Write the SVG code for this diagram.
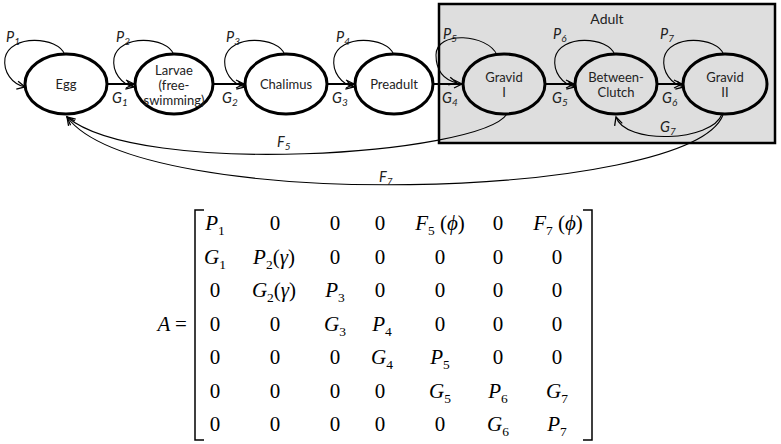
<svg xmlns="http://www.w3.org/2000/svg" width="781" height="444" viewBox="0 0 781 444">
<style>
.node{stroke:#000;stroke-width:3;fill:#fff}
.adult .node{fill:#dedede}
.nt{font-family:Lato,"Liberation Sans",sans-serif;font-size:13px;text-anchor:middle;fill:#222}
.lb{font-family:Lato,"Liberation Sans",sans-serif;font-size:14.5px;font-style:italic;fill:#222}
.sb{font-size:10px}
.g{stroke:#000;stroke-width:2;fill:none}
.loop{stroke:#000;stroke-width:1.1;fill:none}
.m{font-family:"Liberation Serif","Times New Roman","DejaVu Serif",serif;font-size:21px;text-anchor:middle;fill:#000}
.mi{font-style:italic}
.ms{font-size:13.5px}
</style>
<defs>
<marker id="ah" markerUnits="userSpaceOnUse" markerWidth="12" markerHeight="12" refX="9" refY="5" orient="auto">
<path d="M1,1 L9,5 L1,9" fill="none" stroke="#000" stroke-width="1.3"/>
</marker>
</defs>
<rect id="adult-box" x="439" y="4" width="336" height="139" fill="#dedede" stroke="#000" stroke-width="2.5"/>
<text class="nt" x="607" y="24" style="font-size:14px">Adult</text>
<g id="connectors">
<path class="g" d="M107 84 H134" marker-end="url(#ah)"/>
<path class="g" d="M213 84 H244" marker-end="url(#ah)"/>
<path class="g" d="M327 84 H354" marker-end="url(#ah)"/>
<path class="g" d="M433 84 H462" marker-end="url(#ah)"/>
<path class="g" d="M545 84 H574" marker-end="url(#ah)"/>
<path class="g" d="M657 84 H682" marker-end="url(#ah)"/>
<path class="loop" d="M65 55 C58 36,10 34,5 58 C3 72,12 84,25 87" marker-end="url(#ah)"/>
<path class="loop" d="M174 55 C167 36,119 34,114 58 C112 72,121 84,134 87" marker-end="url(#ah)"/>
<path class="loop" d="M285 55 C278 36,230 34,225 58 C223 72,232 84,245 87" marker-end="url(#ah)"/>
<path class="loop" d="M394 55 C387 36,339 34,334 58 C332 72,341 84,354 87" marker-end="url(#ah)"/>
<path class="loop" d="M497 55 C488 34,436 30,436 55 C436 72,445 80,457 83" marker-end="url(#ah)"/>
<path class="loop" d="M615 55 C608 36,560 34,555 58 C553 72,562 84,575 87" marker-end="url(#ah)"/>
<path class="loop" d="M724 55 C717 36,669 34,664 58 C662 72,671 84,684 87" marker-end="url(#ah)"/>
<path class="loop" d="M722 114 C712 142,625 145,616 117" marker-end="url(#ah)"/>
<path class="loop" d="M507 114 C480 155,140 178,67 117" marker-end="url(#ah)"/>
<path class="loop" d="M723 115 C690 200,140 215,67 117" marker-end="url(#ah)"/>
</g>
<g id="labels">
<text class="lb" x="6" y="42">P<tspan class="sb" dy="3">1</tspan></text>
<text class="lb" x="116" y="42">P<tspan class="sb" dy="3">2</tspan></text>
<text class="lb" x="226" y="42">P<tspan class="sb" dy="3">3</tspan></text>
<text class="lb" x="336" y="42">P<tspan class="sb" dy="3">4</tspan></text>
<text class="lb" x="443" y="39">P<tspan class="sb" dy="3">5</tspan></text>
<text class="lb" x="553" y="39">P<tspan class="sb" dy="3">6</tspan></text>
<text class="lb" x="660" y="39">P<tspan class="sb" dy="3">7</tspan></text>
<text class="lb" x="112" y="103">G<tspan class="sb" dy="3">1</tspan></text>
<text class="lb" x="222" y="103">G<tspan class="sb" dy="3">2</tspan></text>
<text class="lb" x="332" y="103">G<tspan class="sb" dy="3">3</tspan></text>
<text class="lb" x="442" y="103">G<tspan class="sb" dy="3">4</tspan></text>
<text class="lb" x="552" y="103">G<tspan class="sb" dy="3">5</tspan></text>
<text class="lb" x="662" y="103">G<tspan class="sb" dy="3">6</tspan></text>
<text class="lb" x="660" y="132">G<tspan class="sb" dy="3">7</tspan></text>
<text class="lb" x="277" y="147">F<tspan class="sb" dy="3">5</tspan></text>
<text class="lb" x="379" y="182">F<tspan class="sb" dy="3">7</tspan></text>
</g>
<g id="egg"><ellipse class="node" cx="66" cy="84" rx="41" ry="30"/><text class="nt" x="66" y="89">Egg</text></g>
<g id="larvae"><ellipse class="node" cx="174" cy="84" rx="39" ry="30"/><text class="nt" x="174" y="75">Larvae</text><text class="nt" x="174" y="90">(free-</text><text class="nt" x="174" y="105">swimming)</text></g>
<g id="chalimus"><ellipse class="node" cx="286" cy="84" rx="41" ry="30"/><text class="nt" x="286" y="89">Chalimus</text></g>
<g id="preadult"><ellipse class="node" cx="394" cy="84" rx="39" ry="30"/><text class="nt" x="394" y="89">Preadult</text></g>
<g class="adult">
<g id="gravid1"><ellipse class="node" cx="504" cy="84" rx="41" ry="30"/><text class="nt" x="504" y="82">Gravid</text><text class="nt" x="504" y="97">I</text></g>
<g id="between-clutch"><ellipse class="node" cx="616" cy="84" rx="41" ry="30"/><text class="nt" x="616" y="82">Between-</text><text class="nt" x="616" y="97">Clutch</text></g>
<g id="gravid2"><ellipse class="node" cx="725" cy="84" rx="42" ry="30"/><text class="nt" x="725" y="82">Gravid</text><text class="nt" x="725" y="97">II</text></g>
</g>
<g id="matrix">
<text class="m mi" x="164" y="331">A</text>
<text class="m" x="181" y="331">=</text>
<path d="M204 210 H195 V440 H204 M583 210 H592 V440 H583" fill="none" stroke="#000" stroke-width="1.5"/>
<text class="m" x="215" y="230"><tspan class="mi">P</tspan><tspan class="ms" dy="5">1</tspan></text>
<text class="m" x="275" y="230">0</text><text class="m" x="335" y="230">0</text><text class="m" x="380" y="230">0</text>
<text class="m" x="440" y="230"><tspan class="mi">F</tspan><tspan class="ms" dy="5">5</tspan><tspan dy="-5"> (</tspan><tspan class="mi">ϕ</tspan>)</text>
<text class="m" x="498" y="230">0</text>
<text class="m" x="558" y="230"><tspan class="mi">F</tspan><tspan class="ms" dy="5">7</tspan><tspan dy="-5"> (</tspan><tspan class="mi">ϕ</tspan>)</text>
<text class="m" x="215" y="263.5"><tspan class="mi">G</tspan><tspan class="ms" dy="5">1</tspan></text>
<text class="m" x="274" y="263.5"><tspan class="mi">P</tspan><tspan class="ms" dy="5">2</tspan><tspan dy="-5">(</tspan><tspan class="mi">γ</tspan>)</text>
<text class="m" x="335" y="263.5">0</text><text class="m" x="380" y="263.5">0</text><text class="m" x="440" y="263.5">0</text><text class="m" x="498" y="263.5">0</text><text class="m" x="557" y="263.5">0</text>
<text class="m" x="215" y="297">0</text>
<text class="m" x="274" y="297"><tspan class="mi">G</tspan><tspan class="ms" dy="5">2</tspan><tspan dy="-5">(</tspan><tspan class="mi">γ</tspan>)</text>
<text class="m" x="335" y="297"><tspan class="mi">P</tspan><tspan class="ms" dy="5">3</tspan></text>
<text class="m" x="380" y="297">0</text><text class="m" x="440" y="297">0</text><text class="m" x="498" y="297">0</text><text class="m" x="557" y="297">0</text>
<text class="m" x="215" y="330.5">0</text><text class="m" x="275" y="330.5">0</text>
<text class="m" x="335" y="330.5"><tspan class="mi">G</tspan><tspan class="ms" dy="5">3</tspan></text>
<text class="m" x="382" y="330.5"><tspan class="mi">P</tspan><tspan class="ms" dy="5">4</tspan></text>
<text class="m" x="440" y="330.5">0</text><text class="m" x="498" y="330.5">0</text><text class="m" x="557" y="330.5">0</text>
<text class="m" x="215" y="364">0</text><text class="m" x="275" y="364">0</text><text class="m" x="335" y="364">0</text>
<text class="m" x="382" y="364"><tspan class="mi">G</tspan><tspan class="ms" dy="5">4</tspan></text>
<text class="m" x="440" y="364"><tspan class="mi">P</tspan><tspan class="ms" dy="5">5</tspan></text>
<text class="m" x="498" y="364">0</text><text class="m" x="557" y="364">0</text>
<text class="m" x="215" y="397.5">0</text><text class="m" x="275" y="397.5">0</text><text class="m" x="335" y="397.5">0</text><text class="m" x="380" y="397.5">0</text>
<text class="m" x="440" y="397.5"><tspan class="mi">G</tspan><tspan class="ms" dy="5">5</tspan></text>
<text class="m" x="498" y="397.5"><tspan class="mi">P</tspan><tspan class="ms" dy="5">6</tspan></text>
<text class="m" x="557" y="397.5"><tspan class="mi">G</tspan><tspan class="ms" dy="5">7</tspan></text>
<text class="m" x="215" y="431">0</text><text class="m" x="275" y="431">0</text><text class="m" x="335" y="431">0</text><text class="m" x="380" y="431">0</text><text class="m" x="440" y="431">0</text>
<text class="m" x="498" y="431"><tspan class="mi">G</tspan><tspan class="ms" dy="5">6</tspan></text>
<text class="m" x="557" y="431"><tspan class="mi">P</tspan><tspan class="ms" dy="5">7</tspan></text>
</g>
</svg>
